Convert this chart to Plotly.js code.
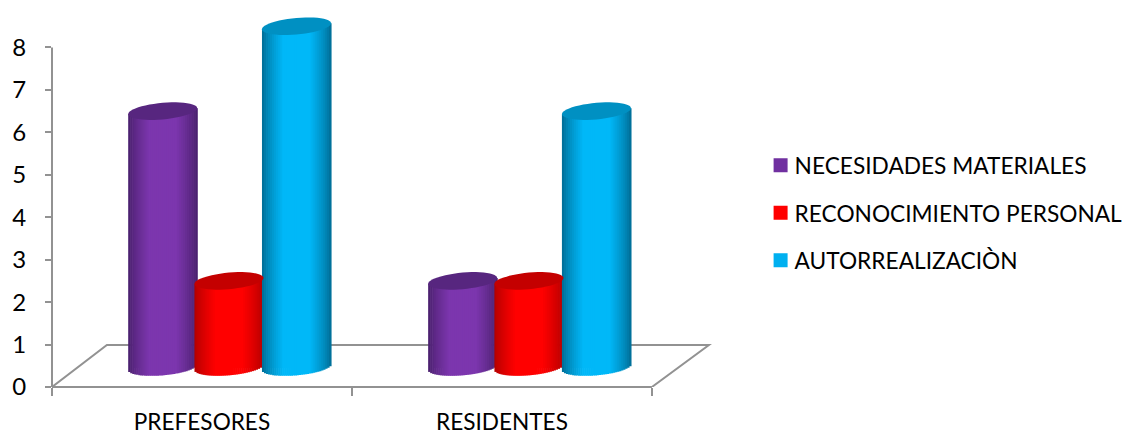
<!DOCTYPE html>
<html>
<head>
<meta charset="utf-8">
<script src="https://cdn.plot.ly/plotly-3.0.1.min.js"></script>
<style>html,body{margin:0;padding:0;background:#fff}</style>
</head>
<body>
<div id="chart" style="width:1122px;height:432px"></div>
<script>
var categories = ['PREFESORES', 'RESIDENTES'];
var seriesNames = ['NECESIDADES MATERIALES', 'RECONOCIMIENTO PERSONAL', 'AUTORREALIZACIÒN'];
var necesidadesMateriales = [6, 2];
var reconocimientoPersonal = [2, 2];
var autorrealizacion = [8, 6];
var allValues = [necesidadesMateriales, reconocimientoPersonal, autorrealizacion];

var legendColors = ['#7030A0', '#FF0000', '#00B0F0'];
var edgeColors = [[70, 30, 105], [175, 0, 0], [0, 105, 145]];
var centerColors = [[124, 54, 174], [255, 0, 0], [0, 184, 248]];
var capColors = ['#57267F', '#C40000', '#0090C2'];
var seriesOffset = [-0.131, 0.09, 0.315];
var halfWidth = 0.115;
var floorLift = 0.47, topLift = 0.5, capB = 0.195, capK = 0.07;
var STRIPS = 34;
var axisGrey = '#929292';

function mix(a, b, t) {
  return 'rgb(' + a.map(function (v, i) { return Math.round(v + (b[i] - v) * t); }).join(',') + ')';
}
var traces = [];
var shapes = [];

shapes.push({type: 'path', layer: 'below', xref: 'x', yref: 'y',
  path: 'M-0.5,0 L-0.317,0.988 L1.69,0.988 L1.5,0',
  line: {color: axisGrey, width: 2}, fillcolor: 'rgba(0,0,0,0)'});
shapes.push({type: 'line', layer: 'below', xref: 'paper', yref: 'y', x0: 0, x1: 0, y0: 0, y1: 8,
  line: {color: axisGrey, width: 2}});
shapes.push({type: 'line', layer: 'below', xref: 'x', yref: 'paper', x0: -0.5, x1: 1.5, y0: 0, y1: 0,
  line: {color: axisGrey, width: 2}});

seriesNames.forEach(function (name, s) {
  var values = allValues[s];
  traces.push({
    type: 'bar', name: name, legendgroup: name, x: categories, y: values,
    base: floorLift, width: halfWidth * 1.6, offset: seriesOffset[s] - halfWidth * 0.8,
    marker: {color: legendColors[s], line: {color: legendColors[s], width: 2}},
    cliponaxis: false, hoverinfo: 'x+y+name'
  });
  for (var i = 0; i < STRIPS; i++) {
    var u = -1 + (2 * i + 1) / STRIPS;
    var tt = Math.min(1, (1 - Math.abs(u)) / 0.62);
    var bases = [], ys = [];
    values.forEach(function (v) {
      var b = floorLift + capK * u - capB * Math.sqrt(1 - u * u);
      bases.push(b);
      ys.push(v + topLift + capK * u - b);
    });
    traces.push({
      type: 'bar', showlegend: false, legendgroup: name, x: categories, y: ys, base: bases,
      width: 2 * halfWidth / STRIPS * 1.3,
      offset: seriesOffset[s] + (u - 1 / STRIPS) * halfWidth,
      marker: {color: mix(edgeColors[s], centerColors[s], Math.pow(tt, 0.75)), line: {width: 0}},
      hoverinfo: 'skip'
    });
  }
  values.forEach(function (v, c) {
    var pts = [];
    for (var j = 0; j < 48; j++) {
      var t = j / 48 * 2 * Math.PI;
      var px = c + seriesOffset[s] + halfWidth * Math.cos(t);
      var py = v + topLift + capK * Math.cos(t) + capB * Math.sin(t);
      pts.push(px.toFixed(4) + ',' + py.toFixed(4));
    }
    shapes.push({type: 'path', layer: 'above', xref: 'x', yref: 'y',
      path: 'M' + pts.join(' L') + ' Z', fillcolor: capColors[s], line: {width: 0}});
  });
});

var layout = {
  width: 1122, height: 432, autosize: false,
  margin: {l: 52, r: 402, t: 4.5, b: 45, pad: 0},
  paper_bgcolor: '#fff', plot_bgcolor: 'rgba(0,0,0,0)',
  barmode: 'overlay',
  font: {family: 'Lato, Carlito, sans-serif', color: '#000', size: 22},
  showlegend: true,
  legend: {xref: 'container', yref: 'container', x: 0.677, xanchor: 'left', y: 0.507, yanchor: 'middle',
    traceorder: 'grouped', tracegroupgap: 15, font: {size: 22.7}, bgcolor: 'rgba(0,0,0,0)', indentation: -5},
  xaxis: {type: 'category', categoryorder: 'array', categoryarray: categories,
    range: [-0.5, 1.727], tickson: 'boundaries', ticks: 'outside', ticklen: 8, tickwidth: 2,
    tickcolor: axisGrey, showgrid: false, zeroline: false, showline: false,
    tickfont: {size: 22.6}, ticklabelstandoff: 19},
  yaxis: {range: [0, 9], tickmode: 'array', tickvals: [0, 1, 2, 3, 4, 5, 6, 7, 8],
    ticks: 'outside', ticklen: 6, tickwidth: 2, tickcolor: axisGrey,
    showgrid: false, zeroline: false, showline: false, tickfont: {size: 24}, ticklabelstandoff: 14},
  shapes: shapes
};
Plotly.newPlot('chart', traces, layout, {displayModeBar: false, responsive: false}).then(function (gd) {
  gd.querySelectorAll('.legendsymbols').forEach(function (el) {
    el.setAttribute('transform', 'translate(6,0)');
  });
});
</script>
</body>
</html>
